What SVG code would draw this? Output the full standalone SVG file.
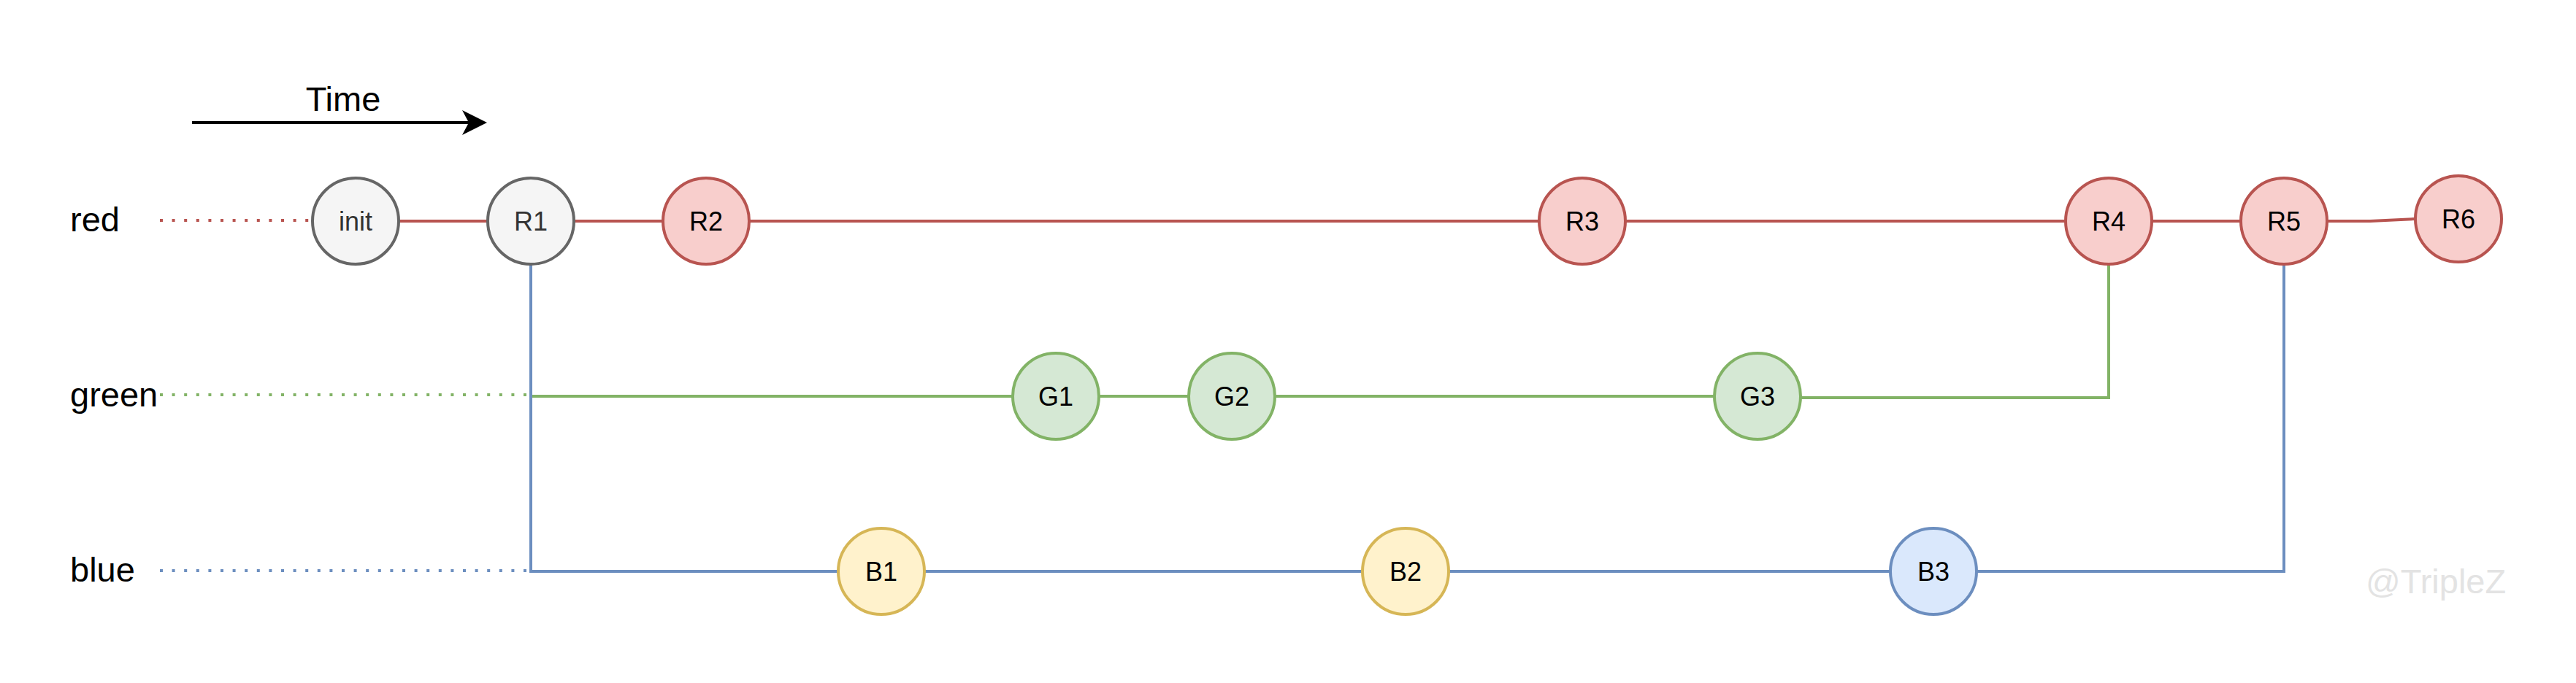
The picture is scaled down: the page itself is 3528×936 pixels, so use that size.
<svg xmlns="http://www.w3.org/2000/svg" width="3528" height="936" viewBox="0 0 3528 936">
<style>
.lbl{font-family:"Liberation Sans",Arial,sans-serif;font-size:47px;fill:#000}
.nt{font-family:"Liberation Sans",Arial,sans-serif;font-size:36px;fill:#000;text-anchor:middle;dominant-baseline:central}
.gray circle{fill:#f5f5f5;stroke:#666666;stroke-width:4}
.gray text{fill:#333333}
.red circle{fill:#f8cecc;stroke:#b85450;stroke-width:4}
.grn circle{fill:#d5e8d4;stroke:#82b366;stroke-width:4}
.yel circle{fill:#fff2cc;stroke:#d6b656;stroke-width:4}
.blu circle{fill:#dae8fc;stroke:#6c8ebf;stroke-width:4}
.c{fill:none;stroke-width:4}
.dot{fill:none;stroke-width:4;stroke-dasharray:4 12.6}
</style>
<rect width="3528" height="936" fill="#ffffff"/>
<g id="time">
<text class="lbl" x="470" y="152" text-anchor="middle">Time</text>
<line x1="263" y1="168" x2="645" y2="168" stroke="#000" stroke-width="4"/>
<polygon points="667,168 633,151 642,168 633,185" fill="#000"/>
</g>
<g id="labels">
<text class="lbl" x="96" y="317">red</text>
<text class="lbl" x="96" y="557">green</text>
<text class="lbl" x="96" y="797">blue</text>
</g>
<g id="connectors">
<line class="dot" x1="219" y1="302" x2="426" y2="302" stroke="#b85450"/>
<line class="dot" x1="219" y1="541" x2="727" y2="541" stroke="#82b366"/>
<line class="dot" x1="219" y1="782" x2="727" y2="782" stroke="#6c8ebf"/>
<polyline class="c" stroke="#b85450" points="488,303 3187,303 3246,303 3308,300"/>
<polyline class="c" stroke="#82b366" points="727,543 2407,543 2407,545 2888,545 2888,363"/>
<polyline class="c" stroke="#6c8ebf" points="727,363 727,783 3128,783 3128,363"/>
</g>
<g id="init" class="gray"><circle cx="487" cy="303" r="59"/><text class="nt" x="487" y="303">init</text></g>
<g id="R1" class="gray"><circle cx="727" cy="303" r="59"/><text class="nt" x="727" y="303">R1</text></g>
<g id="R2" class="red"><circle cx="967" cy="303" r="59"/><text class="nt" x="967" y="303">R2</text></g>
<g id="R3" class="red"><circle cx="2167" cy="303" r="59"/><text class="nt" x="2167" y="303">R3</text></g>
<g id="R4" class="red"><circle cx="2888" cy="303" r="59"/><text class="nt" x="2888" y="303">R4</text></g>
<g id="R5" class="red"><circle cx="3128" cy="303" r="59"/><text class="nt" x="3128" y="303">R5</text></g>
<g id="R6" class="red"><circle cx="3367" cy="300" r="59"/><text class="nt" x="3367" y="300">R6</text></g>
<g id="G1" class="grn"><circle cx="1446" cy="543" r="59"/><text class="nt" x="1446" y="543">G1</text></g>
<g id="G2" class="grn"><circle cx="1687" cy="543" r="59"/><text class="nt" x="1687" y="543">G2</text></g>
<g id="G3" class="grn"><circle cx="2407" cy="543" r="59"/><text class="nt" x="2407" y="543">G3</text></g>
<g id="B1" class="yel"><circle cx="1207" cy="783" r="59"/><text class="nt" x="1207" y="783">B1</text></g>
<g id="B2" class="yel"><circle cx="1925" cy="783" r="59"/><text class="nt" x="1925" y="783">B2</text></g>
<g id="B3" class="blu"><circle cx="2648" cy="783" r="59"/><text class="nt" x="2648" y="783">B3</text></g>
<text id="watermark" x="3240" y="813" font-family="'Liberation Sans',Arial,sans-serif" font-size="47" fill="#e3e3e3">@TripleZ</text>
</svg>
